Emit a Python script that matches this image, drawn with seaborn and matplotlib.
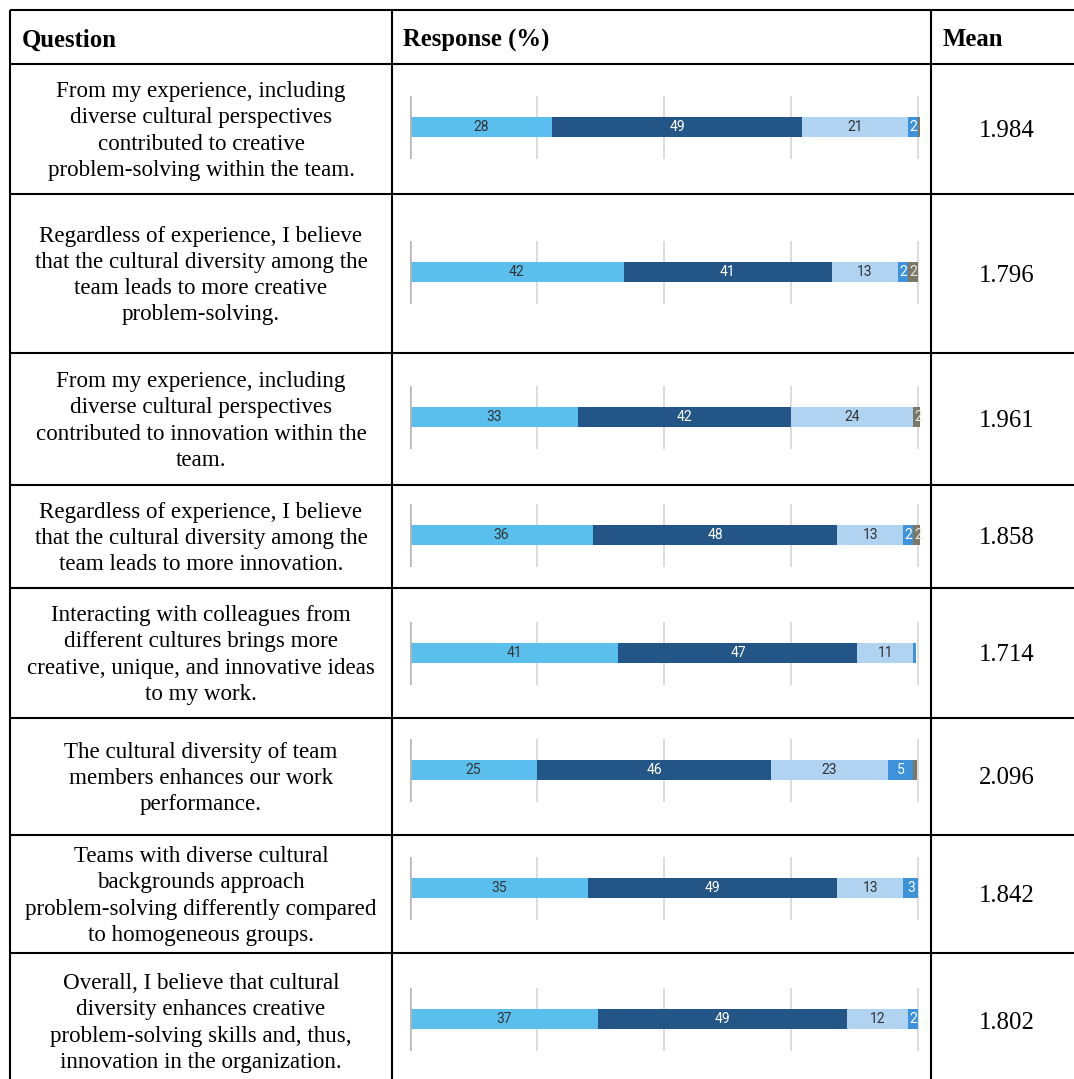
import matplotlib
matplotlib.use("Agg")
import matplotlib.pyplot as plt
import seaborn as sns
import numpy as np
import pandas as pd

# table content
questions = [
    "From my experience, including\ndiverse cultural perspectives\ncontributed to creative\nproblem-solving within the team.",
    "Regardless of experience, I believe\nthat the cultural diversity among the\nteam leads to more creative\nproblem-solving.",
    "From my experience, including\ndiverse cultural perspectives\ncontributed to innovation within the\nteam.",
    "Regardless of experience, I believe\nthat the cultural diversity among the\nteam leads to more innovation.",
    "Interacting with colleagues from\ndifferent cultures brings more\ncreative, unique, and innovative ideas\nto my work.",
    "The cultural diversity of team\nmembers enhances our work\nperformance.",
    "Teams with diverse cultural\nbackgrounds approach\nproblem-solving differently compared\nto homogeneous groups.",
    "Overall, I believe that cultural\ndiversity enhances creative\nproblem-solving skills and, thus,\ninnovation in the organization.",
]
means = ["1.984", "1.796", "1.961", "1.858", "1.714", "2.096", "1.842", "1.802"]

# response shares (%) per answer category, one list per category
resp_1 = [28, 42, 33, 36, 41, 25, 35, 37]
resp_2 = [49, 41, 42, 48, 47, 46, 49, 49]
resp_3 = [21, 13, 24, 13, 11, 23, 13, 12]
resp_4 = [2, 2, 0, 2, 0.6, 5, 3, 2]
resp_5 = [0.4, 2, 2, 2, 0, 0.8, 0, 0]
categories = ["r1", "r2", "r3", "r4", "r5"]

seg_colors = ["#5BBFEE", "#235587", "#B0D3F2", "#3C93DC", "#7B7866"]
txt_colors = ["#333333", "white", "#333333", "white", "#e8e8e0"]

W, H = 1074, 1079
sns.set_style("white")
fig = plt.figure(figsize=(W / 100, H / 100), dpi=100)

# background axes in pixel coordinates for the table grid
bg = fig.add_axes([0, 0, 1, 1])
bg.set_xlim(0, W)
bg.set_ylim(H, 0)
bg.set_axis_off()

row_edges = [10, 64, 194, 353, 485, 588, 718, 835, 953, 1089]
col_x = [10, 392, 931]
for y in row_edges[:-1]:
    bg.plot([10, W + 5], [y, y], color="black", lw=1.5, solid_capstyle="butt")
for x in col_x:
    bg.plot([x, x], [10, H + 5], color="black", lw=1.5, solid_capstyle="butt")

serif = "Liberation Serif"
hy = 40
for hx, label in [(22, "Question"), (403, "Response (%)"), (943, "Mean")]:
    bg.text(hx, hy, label, fontsize=17.8, fontweight="bold", family=serif,
            va="center", color="black")

bar_centers = [127, 272, 417, 535, 653, 770, 888, 1019]
data = pd.DataFrame({"q": questions, "r1": resp_1, "r2": resp_2, "r3": resp_3,
                     "r4": resp_4, "r5": resp_5})

for i, row in data.iterrows():
    ty = (row_edges[i + 1] + row_edges[i + 2]) / 2 + 2
    bg.text(201, ty, row["q"], ha="center", va="center", fontsize=16.6,
            family=serif, linespacing=1.33, color="black")
    bg.text(1007, ty, means[i], ha="center", va="center", fontsize=17.8,
            family=serif, color="black")

    vals = [row[c] for c in categories]
    cum = np.cumsum(vals)
    yc = bar_centers[i]
    ax = fig.add_axes([410 / W, 1 - (yc + 31.5) / H, 510 / W, 63 / H])
    ax.patch.set_alpha(0)
    # draw cumulative bars from the longest down so each segment shows
    for k in range(len(categories) - 1, -1, -1):
        if vals[k] <= 0:
            continue
        sns.barplot(x=[cum[k]], y=["q"], color=seg_colors[k], orient="h",
                    width=0.8, linewidth=0, saturation=1, ax=ax, zorder=2)
    for g in [25, 50, 75, 100]:
        ax.axvline(g, color="#d6d6d6", lw=1.2, zorder=0)
    ax.axvline(0, color="#b5b5b5", lw=1.8, zorder=3)
    left = 0
    for k, v in enumerate(vals):
        if v >= 1.5:
            ax.text(left + v / 2, 0, f"{v:.0f}", ha="center", va="center",
                    fontsize=10, family="Roboto", color=txt_colors[k], zorder=4)
        left += v
    ax.set_xlim(0, 100.3)
    ax.set_ylim(1.26, -1.26)
    ax.set_axis_off()

fig.savefig("out.png", dpi=100)
